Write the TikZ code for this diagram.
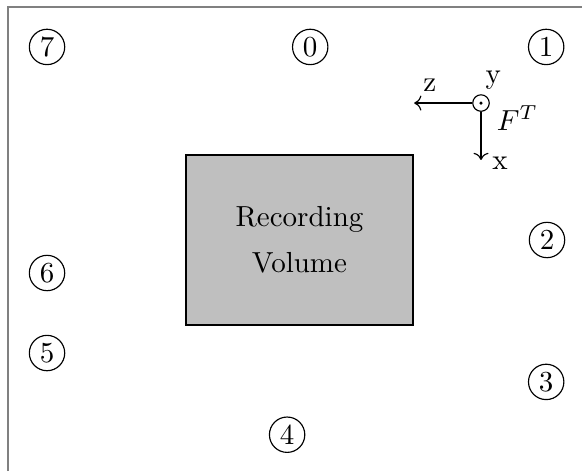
\documentclass[tikz,border=0pt]{standalone}
\usetikzlibrary{arrows.meta, positioning}

\begin{document}
\begin{tikzpicture}[probe/.style={draw, circle, inner sep=0.5pt, minimum size=12.2pt}]
    \useasboundingbox (0,0) rectangle (7.054,5.709);
    \draw[gray] (0.097,0) -- (0.097,5.624) -- (7.054,5.624);
    % recording volume
    \node[draw, fill=gray!50, minimum width=2.75cm, minimum height=2.06cm, align=center] (vol) at (3.63,2.80) {Recording\\[4pt]Volume};
    % probes
    \node[probe] (p0) at (3.76,5.14) {0};
    \node[probe] (p1) at (6.62,5.14) {1};
    \node[probe] (p2) at (6.63,2.80) {2};
    \node[probe] (p3) at (6.62,1.08) {3};
    \node[probe] (p4) at (3.48,0.44) {4};
    \node[probe] (p5) at (0.57,1.43) {5};
    \node[probe] (p6) at (0.57,2.40) {6};
    \node[probe] (p7) at (0.57,5.14) {7};
    % frame axes
    \node[draw, circle, inner sep=0pt, minimum size=0.2cm] (o) at (5.83,4.46) {};
    \fill (o.center) circle (0.6pt);
    \coordinate (zend) at (5.02,4.46);
    \coordinate (xend) at (5.83,3.77);
    \draw[->] (o.west) -- (zend);
    \draw[->] (o.south) -- (xend);
    \node (zlab) at (5.21,4.67) {z};
    \node (ylab) at (5.98,4.74) {y};
    \node (xlab) at (6.06,3.73) {x};
    \node (flab) at (6.27,4.28) {$F^T$};
\end{tikzpicture}
\end{document}
